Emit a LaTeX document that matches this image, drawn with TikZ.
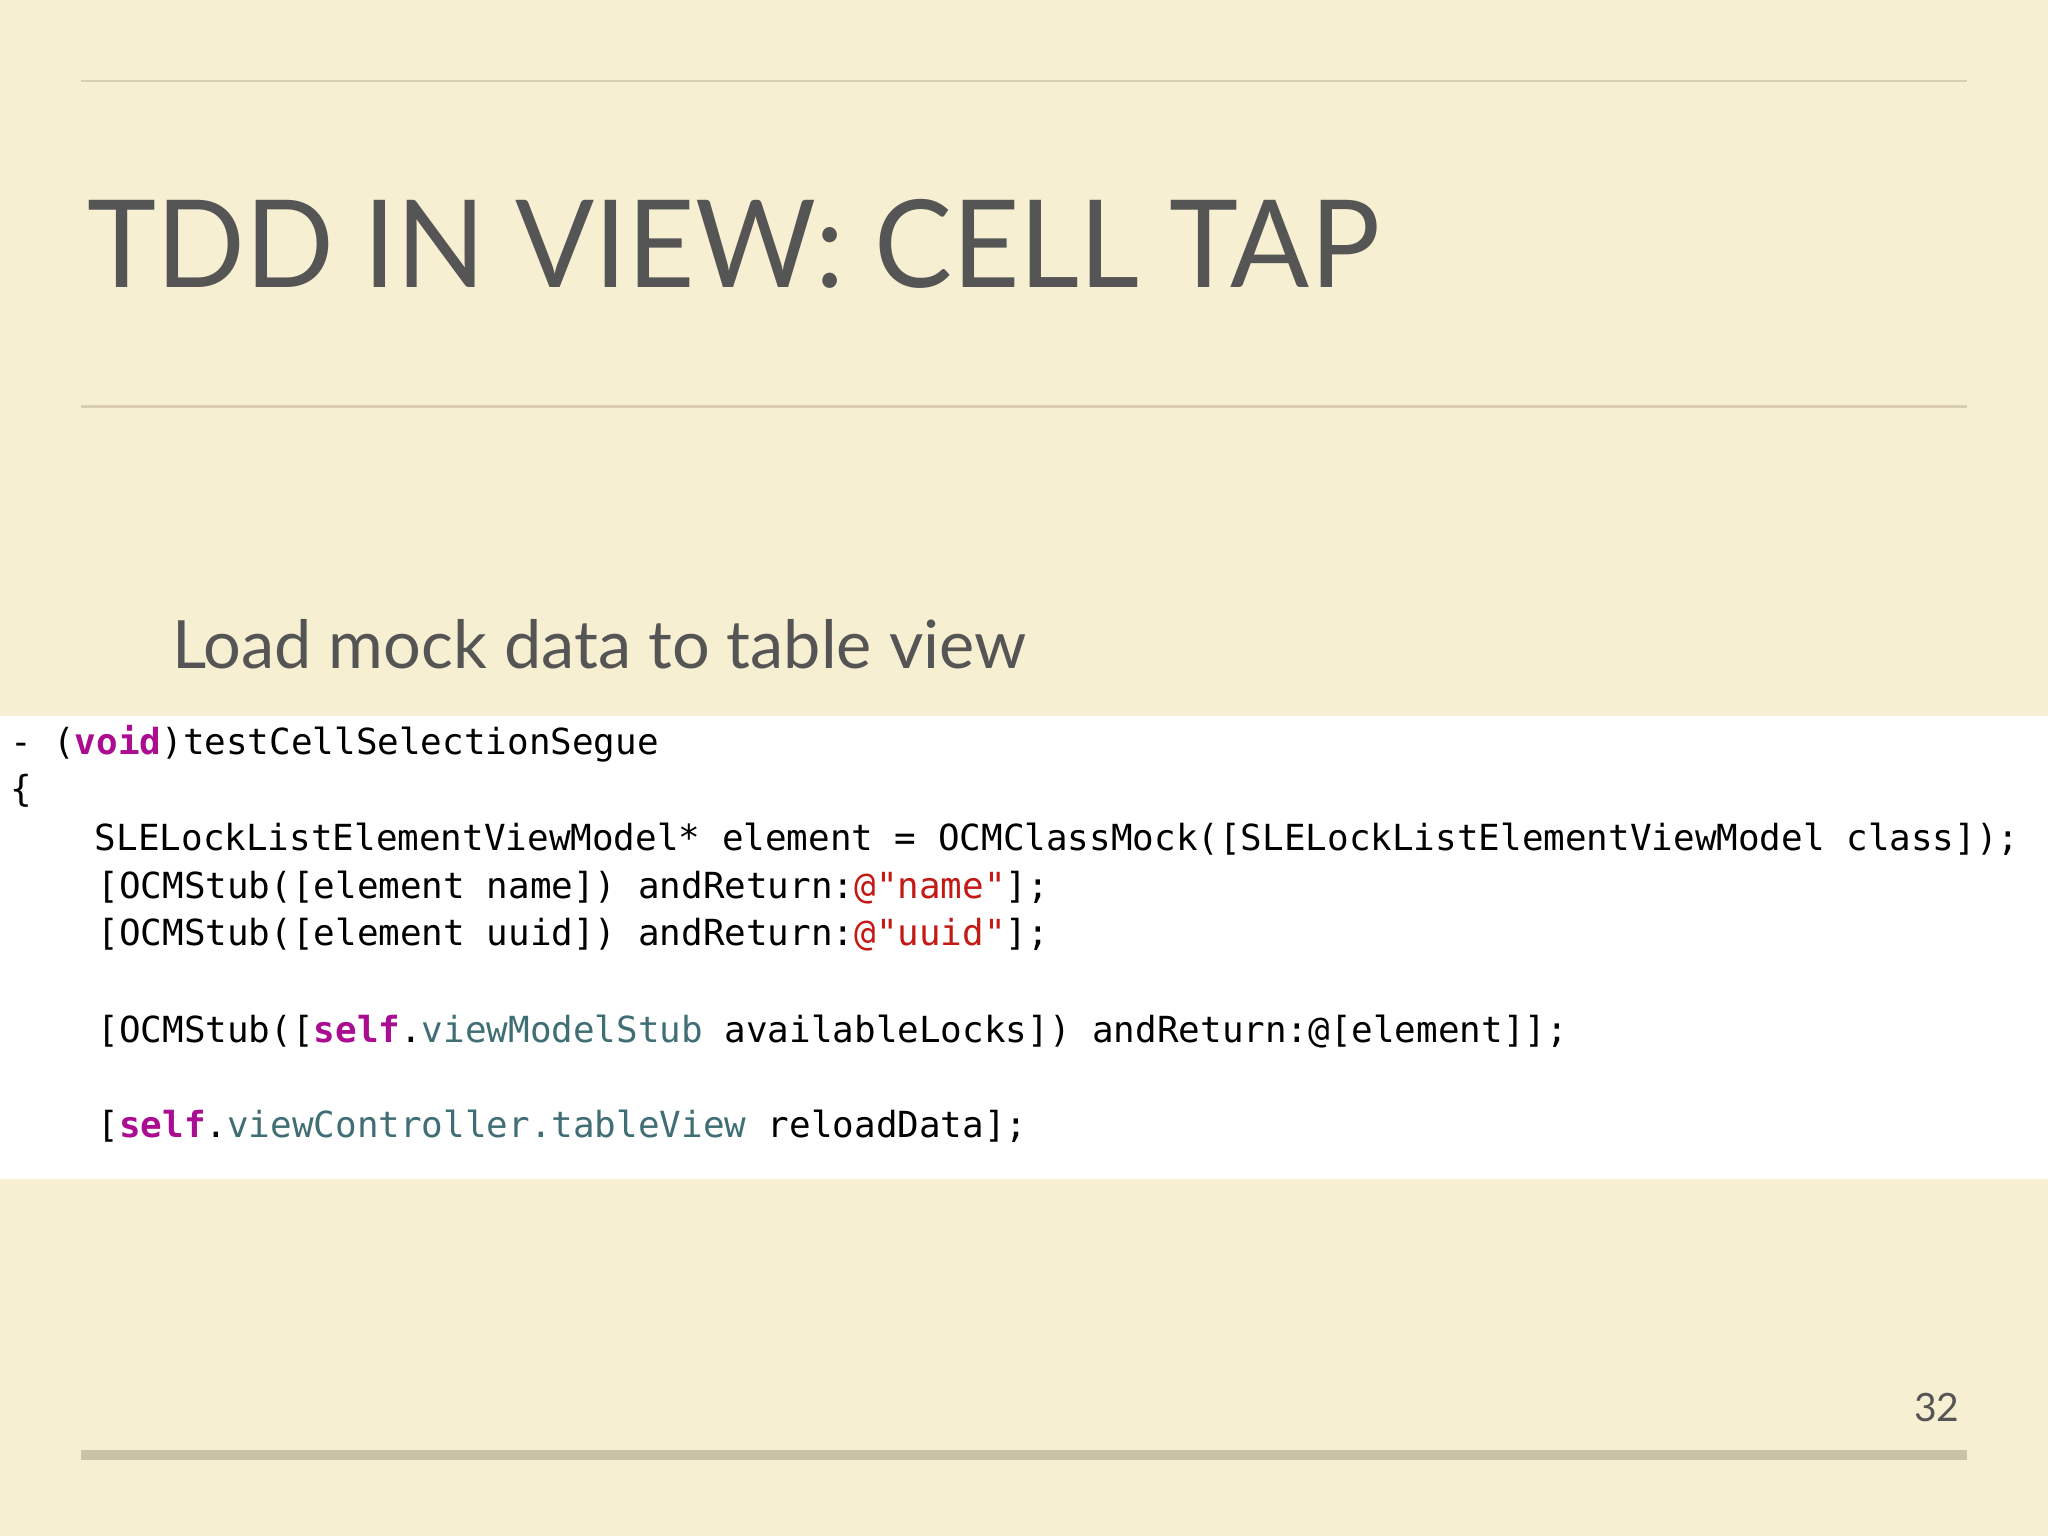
\documentclass[tikz,border=0pt]{standalone}
\usepackage{fontspec}
\setmainfont{Lato}
\newfontfamily\codefont{DejaVu Sans Mono}
\definecolor{bg}{HTML}{F7EFD2}
\definecolor{rule}{HTML}{D9CFB0}
\definecolor{bar}{HTML}{C8C2A6}
\definecolor{ttl}{HTML}{555555}
\definecolor{kw}{HTML}{AA0D91}
\definecolor{str}{HTML}{C41A16}
\definecolor{prop}{HTML}{3F6E74}
\begin{document}
\begin{tikzpicture}[x=0.01cm,y=-0.01cm,
  code/.style={anchor=base west,inner sep=0pt,font=\codefont\fontsize{7.82pt}{9pt}\selectfont,text=black}]
\fill[bg] (0,0) rectangle (1568,1176);
\useasboundingbox (0,0) rectangle (1568,1176);
\draw[rule,line width=0.6pt] (62,62) -- (1506,62);
\draw[rule,line width=0.6pt] (62,311) -- (1506,311);
\node[anchor=base west,inner sep=0pt,text=ttl,font=\fontsize{26.5pt}{30pt}\selectfont,xscale=0.96] (title) at (66,220) {TDD IN VIEW: CELL TAP};
\node[anchor=base west,inner sep=0pt,text=ttl,font=\fontsize{14.5pt}{17pt}\selectfont] (sub) at (131,512) {Load mock data to table view};
\fill[white] (0,548) rectangle (1568,903);
\node[code] (l1) at (7,578) {- (\textcolor{kw}{\bfseries void})testCellSelectionSegue};
\node[code] (l2) at (7,614) {\{};
\node[code] (l3) at (72,651) {SLELockListElementViewModel* element = OCMClassMock([SLELockListElementViewModel class]);};
\node[code] (l4) at (74,688) {[OCMStub([element name]) andReturn:\textcolor{str}{@"name"}];};
\node[code] (l5) at (74,724) {[OCMStub([element uuid]) andReturn:\textcolor{str}{@"uuid"}];};
\node[code] (l6) at (74,798) {[OCMStub([\textcolor{kw}{\bfseries self}.\textcolor{prop}{viewModelStub} availableLocks]) andReturn:@[element]];};
\node[code] (l7) at (74,871) {[\textcolor{kw}{\bfseries self}.\textcolor{prop}{viewController.tableView} reloadData];};
\fill[bar] (62,1110) rectangle (1506,1118);
\node[anchor=base east,inner sep=0pt,text=ttl,font=\fontsize{8.5pt}{10pt}\selectfont] (pg) at (1501,1088) {32};
\end{tikzpicture}
\end{document}
